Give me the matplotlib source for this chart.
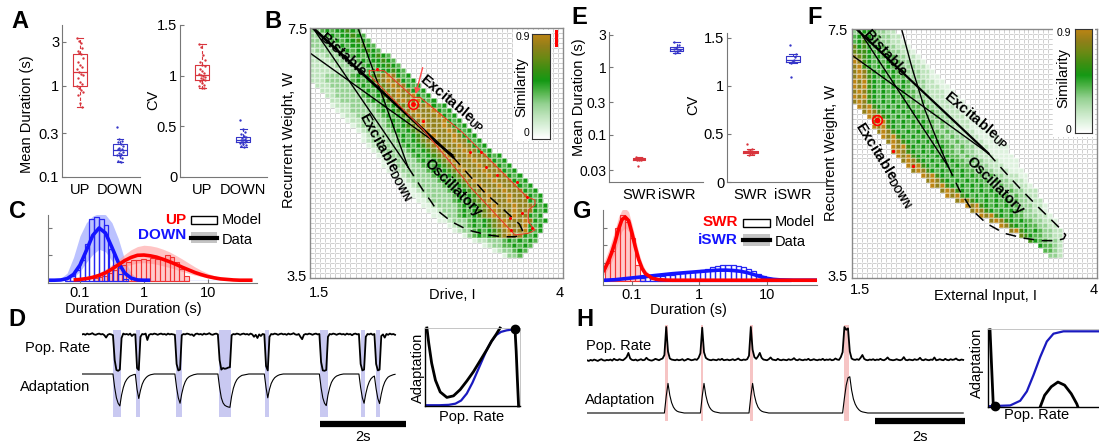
import numpy as np
import numpy.ma as ma
import matplotlib
matplotlib.use("Agg")
import matplotlib.pyplot as plt
from matplotlib.colors import LinearSegmentedColormap, ListedColormap
from matplotlib.patches import Rectangle
from matplotlib.lines import Line2D
from matplotlib.ticker import NullLocator

plt.rcParams['font.family'] = ['Liberation Sans', 'DejaVu Sans']
plt.rcParams['mathtext.fontset'] = 'custom'
plt.rcParams['mathtext.rm'] = 'Liberation Sans'
plt.rcParams['mathtext.bf'] = 'Liberation Sans:bold'

# ======================= DATA =======================
# Panel A : box plots
A_CATS = ['UP', 'DOWN']
A_UP_DUR = [3.3, 3.1, 2.9, 2.6, 2.4, 2.3, 2.2, 2.0, 1.8, 1.7, 1.6, 1.5, 1.4, 1.35, 1.3,
            1.2, 1.1, 1.05, 0.98, 0.95, 0.9, 0.85, 0.78, 0.65, 0.58]
A_DOWN_DUR = [0.35, 0.26, 0.25, 0.24, 0.23, 0.22, 0.21, 0.205, 0.2, 0.195, 0.19, 0.185,
              0.18, 0.175, 0.17, 0.16, 0.15, 0.145]
A_UP_CV = [1.31, 1.28, 1.2, 1.15, 1.13, 1.11, 1.1, 1.07, 1.05, 1.03, 1.02, 1.01, 1.0,
           0.99, 0.98, 0.97, 0.96, 0.95, 0.93, 0.91, 0.9, 0.88, 0.875]
A_DOWN_CV = [0.56, 0.47, 0.44, 0.42, 0.40, 0.39, 0.38, 0.375, 0.37, 0.365, 0.36, 0.35,
             0.345, 0.34, 0.33, 0.32, 0.31, 0.30]

# Panel E : box plots
E_CATS = ['SWR', 'iSWR']
E_SWR_DUR = [0.047, 0.046, 0.045, 0.045, 0.044, 0.044, 0.044, 0.043, 0.043, 0.042, 0.035]
E_ISWR_DUR = [2.35, 2.1, 2.0, 1.9, 1.85, 1.8, 1.75, 1.7, 1.6]
E_SWR_CV = [0.40, 0.34, 0.33, 0.32, 0.315, 0.31, 0.31, 0.30, 0.29, 0.285]
E_ISWR_CV = [1.42, 1.33, 1.3, 1.27, 1.26, 1.25, 1.24, 1.09]

# Panel C : duration histograms (x = log10 duration)
C_X_LOG = [-1.5, -1.4, -1.3, -1.2, -1.1, -1.0, -0.9, -0.8, -0.7, -0.6, -0.5, -0.4, -0.3, -0.2,
           -0.1, 0.0, 0.1, 0.2, 0.3, 0.4, 0.5, 0.6, 0.7, 0.8, 0.9, 1.0, 1.1, 1.2, 1.3, 1.4,
           1.5, 1.6, 1.7]
C_DOWN_CURVE = [.003, .003, .004, .009, .025, .060, .115, .172, .200, .181, .127, .070, .030,
                .011, .004] + [.003] * 18
C_DOWN_HI = [.003, .004, .01, .03, .09, .17, .22, .245, .255, .25, .22, .16, .08, .03, .01] + [.003] * 18
C_DOWN_LO = [.002, .002, .002, .005, .014, .036, .07, .10, .12, .11, .076, .04, .018, .006,
             .002] + [.002] * 18
C_UP_CURVE = [.003, .003, .003, .003, .004, .006, .009, .014, .021, .031, .045, .061, .077, .089,
              .097, .098, .095, .09, .082, .073, .063, .052, .042, .032, .024, .017, .012, .008,
              .006, .004, .003, .003, .003]
C_UP_HI = [.003, .003, .003, .004, .006, .01, .015, .022, .032, .045, .062, .082, .10, .118, .13,
           .135, .133, .128, .12, .11, .097, .083, .068, .053, .04, .029, .02, .013, .009, .006,
           .004, .003, .003]
C_UP_LO = [.002, .002, .002, .002, .003, .004, .006, .01, .015, .022, .032, .043, .054, .062,
           .068, .069, .067, .063, .057, .051, .044, .036, .029, .022, .017, .012, .008, .006,
           .004, .003, .002, .002, .002]
C_DOWN_BIN = [-1.19, -1.115, -1.04, -0.965, -0.89, -0.815, -0.74, -0.665, -0.59, -0.515, -0.44,
              -0.365, -0.29]
C_DOWN_MODEL = [0.01, 0.02, 0.04, 0.08, 0.14, 0.235, 0.24, 0.235, 0.21, 0.12, 0.06, 0.025, 0.008]
C_UP_BIN = [-0.76, -0.685, -0.61, -0.535, -0.46, -0.385, -0.31, -0.235, -0.16, -0.085, -0.01,
            0.065, 0.14, 0.215, 0.29, 0.365, 0.44, 0.515, 0.59, 0.665]
C_UP_MODEL = [0.01, 0.015, 0.02, 0.03, 0.04, 0.05, 0.06, 0.07, 0.078, 0.08, 0.083, 0.08, 0.085,
              0.082, 0.088, 0.1, 0.09, 0.07, 0.045, 0.02]

# Panel G : duration histograms
G_X_LOG = [-1.45, -1.40, -1.35, -1.30, -1.25, -1.20, -1.15, -1.10, -1.05, -1.00, -0.95, -0.90,
           -0.85, -0.80, -0.70, -0.60, -0.50, -0.40, -0.30, -0.20, -0.10, 0.00, 0.10, 0.20,
           0.30, 0.40, 0.50, 0.60, 0.70, 0.80, 0.90, 1.00, 1.10, 1.20, 1.40, 1.60, 1.75]
G_SWR_CURVE = [0.04, 0.07, 0.11, 0.16, 0.22, 0.29, 0.345, 0.36, 0.34, 0.27, 0.19, 0.12, 0.07,
               0.04, 0.014, 0.006, 0.004, 0.003, 0.003, 0.003, 0.003] + [0.003] * 16
G_SWR_HI = [0.07, 0.12, 0.17, 0.23, 0.29, 0.36, 0.40, 0.41, 0.39, 0.32, 0.24, 0.16, 0.10, 0.06,
            0.025, 0.01, 0.006, 0.004, 0.004, 0.004, 0.004] + [0.004] * 16
G_SWR_LO = [0.02, 0.04, 0.07, 0.11, 0.16, 0.22, 0.28, 0.30, 0.28, 0.22, 0.15, 0.09, 0.05, 0.025,
            0.008, 0.003] + [0.002] * 21
G_ISWR_CURVE = [0.003, 0.003, 0.004, 0.005, 0.006, 0.008, 0.010, 0.012, 0.014, 0.016, 0.018,
                0.020, 0.022, 0.024, 0.028, 0.032, 0.036, 0.040, 0.043, 0.046, 0.049, 0.052,
                0.055, 0.058, 0.060, 0.060, 0.058, 0.054, 0.047, 0.036, 0.024, 0.014, 0.008,
                0.005, 0.003, 0.003, 0.003]
G_SWR_BIN = [-1.37, -1.295, -1.22, -1.145, -1.07, -0.995, -0.92, -0.845]
G_SWR_MODEL = [0.10, 0.17, 0.30, 0.37, 0.33, 0.24, 0.09, 0.03]
G_ISWR_BIN = [-0.85, -0.775, -0.70, -0.625, -0.55, -0.475, -0.40, -0.325, -0.25, -0.175, -0.10,
              -0.025, 0.05, 0.125, 0.20, 0.275, 0.35, 0.425, 0.50, 0.575, 0.65, 0.725, 0.80,
              0.875, 0.95, 1.025, 1.10, 1.175, 1.25, 1.325]
G_ISWR_MODEL = [0.015, 0.02, 0.022, 0.025, 0.028, 0.032, 0.035, 0.04, 0.043, 0.047, 0.05, 0.055,
                0.06, 0.068, 0.075, 0.085, 0.09, 0.088, 0.09, 0.085, 0.078, 0.068, 0.055, 0.04,
                0.028, 0.018, 0.011, 0.006, 0.003, 0.002]

# Panels B / F : similarity maps (row 0 = W 7.5 at top; (start column, cell levels /10))
B_ROWS = [
    (0, "3345455654"), (0, "33345455654"), (0, "333345455654"), (0, "3333345455654"),
    (0, "23333345455654"), (0, "2223333345455654"), (0, "22223333345455654"),
    (0, "222223333345455654"), (0, "2222223333345455654"),
    (0, "22233333454567898545"), (0, "222333334545678988545"), (1, "222333334545678988545"),
    (2, "222333334545678988545"), (3, "223333345456789889545"), (4, "223333345456789889545"),
    (4, "12223333345456789889545"), (5, "12233333454567898889545"), (6, "12233333454567898889545"),
    (7, "12233333454567898889545"), (8, "12333334545678988898545"), (9, "12333334545678988898545"),
    (10, "12333334545678988898545"), (10, "123333345456789888988545"), (11, "123333345456789888988545"),
    (12, "123333345456789888988545"), (13, "1233333454567898889888545"), (14, "1233333454567898889888545"),
    (14, "11233333454567898889888545"), (15, "11233333454567898889888545"),
    (16, "11233333454567898889888545"), (17, "11233333454567898889888545"),
    (18, "11233333454567898889888545"), (19, "11233333454567898889888545"),
    (20, "11233333454567898889888545"), (21, "1123333454567898889888545"),
    (22, "1123333454567898889888545"), (23, "112333454567898889888545"),
    (24, "1123345456789888988545"), (25, "1123334545678988898545"),
    (27, "1233454567898889545"), (28, "123345456789889545"), (30, "134545678988545"),
    (32, "1223334545454"), (34, "1233445454"), (36, "1233454"), (38, "1334"),
]
F_ROWS = [
    (0, "345543322"), (0, "4565443322"), (0, "45654433221"), (0, "756545433221"),
    (0, "7665454433221"), (0, "87654545433221"), (0, "986545454433221"),
    (0, "8965454544333221"), (0, "89865454544333221"), (0, "898654545443332211"),
    (0, "9896545454543332211"), (0, "98965454545433322211"), (0, "898654545454433322211"),
    (0, "9896545454544333222111"), (0, "89865454545443433222111"), (1, "98965454545443433222111"),
    (2, "89865454545443433222111"), (3, "98965454545443433222111"), (4, "89965454545443433222111"),
    (4, "989654545454434332221111"), (5, "898654545454434332221111"), (6, "989654545454434332221111"),
    (7, "898654545454434332221111"), (8, "989654545454434332221111"), (8, "898654545454434332221111"),
    (9, "989654545454434332221111"), (10, "898654545454434332221111"), (11, "98965454545443433222111"),
    (12, "89865454545443433222111"), (14, "9896545454544343322211"), (15, "898654545454434332221"),
    (16, "989654545454434332221"), (18, "89865454545443433222"), (19, "9896545454544343322"),
    (21, "898654545454433222"), (23, "98965454544333221"), (24, "8986545454433221"),
    (26, "989654544333221"), (28, "89865454433221"), (30, "986545443322"),
    (32, "89654543322"), (34, "765443322"), (36, "6544332"), (38, "54432"), (39, "4432"), (40, "332"),
]
B_DOT_I = [2.159, 2.62, 3.081, 3.19, 3.239, 3.344, 3.542, 3.641, 3.59, 3.476, 3.69, 3.486]
B_DOT_W = [6.844, 6.017, 5.52, 5.52, 5.28, 5.148, 5.04, 4.79, 4.535, 4.455, 4.295, 4.268]
B_SEL = (2.515, 6.279)
B_CONT_I = [2.086, 2.231, 2.521, 2.587, 2.999, 3.048, 3.641, 3.723, 3.723, 3.657, 3.657, 3.723,
            3.657, 3.525, 3.081, 3.048, 2.62, 2.086]
B_CONT_W = [6.817, 6.817, 6.391, 6.391, 5.841, 5.761, 4.80, 4.748, 4.668, 4.588, 4.40, 4.268,
            4.215, 4.188, 4.96, 5.04, 5.87, 6.748]
B_L1 = ([1.530, 2.913], [7.5, 5.436])
B_L2 = ([1.5, 2.913], [7.1, 5.468])
B_LC = ([1.974, 2.468], [7.5, 5.276])
B_LD = ([1.530, 2.468], [7.5, 5.276])
B_HOPF_I = [2.913, 3.07, 3.23, 3.37, 3.49, 3.57, 3.60, 3.58, 3.525, 3.40, 3.25, 3.06, 2.90,
            2.752, 2.686, 2.636, 2.55, 2.468]
B_HOPF_W = [5.436, 5.15, 4.86, 4.66, 4.48, 4.36, 4.26, 4.19, 4.16, 4.16, 4.19, 4.268, 4.40,
            4.588, 4.748, 4.855, 5.07, 5.276]
F_DOT_I = [1.915, 2.119]
F_DOT_W = [5.54, 5.30]
F_SEL = (1.752, 6.038)
F_L1 = ([1.548, 2.891], [7.495, 5.503])
F_L2 = ([1.497, 2.891], [7.082, 5.503])
F_LC = ([2.007, 2.109, 2.245, 2.381, 2.483], [7.495, 6.894, 6.199, 5.664, 5.288])
F_LD = ([1.564, 2.483], [7.495, 5.288])
F_HOPF_I = [2.891, 3.05, 3.22, 3.40, 3.55, 3.64, 3.68, 3.66, 3.58, 3.436, 3.25, 3.05, 2.87,
            2.72, 2.60, 2.483]
F_HOPF_W = [5.503, 5.22, 4.93, 4.64, 4.41, 4.27, 4.19, 4.13, 4.10, 4.10, 4.14, 4.22, 4.38,
            4.60, 4.90, 5.288]

# Panel D : time series (dt = 0.04 s), levels 0-100
D_DT = 0.04
D_POP = [94, 95, 93, 96, 94, 95, 97, 94, 93, 95, 96, 94, 95, 92, 86, 93, 95, 94, 92, 30,
         5, 3, 6, 85, 96, 94, 95, 93, 96, 90, 94, 94, 10, 5, 88, 95, 94, 96, 80, 93,
         95, 94, 96, 95, 93, 95, 96, 94, 95, 93, 96, 94, 95, 94, 93, 20, 4, 6, 92, 95,
         94, 96, 95, 93, 94, 90, 95, 96, 94, 95, 93, 96, 94, 95, 97, 94, 93, 95, 96, 94,
         30, 6, 10, 8, 9, 11, 12, 92, 95, 94, 96, 95, 93, 95, 96, 94, 95, 93, 96, 94,
         88, 93, 85, 94, 90, 95, 94, 15, 4, 88, 95, 94, 96, 95, 93, 95, 96, 94, 95, 93,
         96, 94, 95, 97, 94, 93, 95, 88, 82, 93, 95, 94, 96, 95, 93, 95, 96, 94, 95, 25,
         4, 3, 5, 88, 95, 94, 96, 95, 93, 95, 96, 94, 95, 93, 96, 94, 95, 92, 95, 96,
         94, 95, 20, 4, 6, 88, 95, 94, 96, 93, 95, 20, 4, 6, 90, 94, 86, 95, 93, 96,
         94, 95, 93]
D_ADAPT = ([100] * 19 + [60, 30, 14, 6, 38, 60, 75, 84, 90, 94, 96, 98, 99, 55, 28,
           52, 70, 81, 88, 93, 96, 98, 99] + [100] * 13 + [60, 30, 14, 42, 63, 77, 86, 91,
           94, 96, 98, 99] + [100] * 13 + [60, 30, 15, 8, 5, 3, 2, 35, 58, 73, 83, 89, 93,
           96, 97, 98, 99] + [100] * 10 + [60, 30, 55, 72, 82, 89, 93, 96, 98, 99]
           + [100] * 22 + [60, 30, 14, 7, 38, 60, 75, 84, 90, 94, 96, 98, 99] + [100] * 10
           + [60, 30, 14, 42, 63, 77, 86, 91, 94, 56, 28, 13, 41, 62, 76, 85, 91, 94, 96, 98, 99])
D_DOWN_START = [0.713, 1.256, 2.186, 3.193, 4.256, 5.535, 6.481, 6.830]
D_DOWN_END = [0.907, 1.349, 2.319, 3.458, 4.342, 5.714, 6.581, 6.930]
D_NULL_X = [0.02, 0.04, 0.07, 0.11, 0.16, 0.23, 0.30, 0.37, 0.44, 0.51, 0.58, 0.65, 0.70, 0.75, 0.79]
D_NULL_Y = [1.00, 0.80, 0.55, 0.33, 0.18, 0.11, 0.13, 0.21, 0.32, 0.44, 0.58, 0.72, 0.83, 0.92, 1.0]
D_RIGHT_X = [0.947, 0.96, 0.972, 0.985]
D_RIGHT_Y = [0.99, 0.70, 0.35, 0.0]
D_SIG_X = [0.0, 0.15, 0.25, 0.32, 0.38, 0.44, 0.50, 0.55, 0.60, 0.65, 0.70, 0.75, 0.80, 0.86, 0.92, 1.0]
D_SIG_Y = [0.01, 0.01, 0.015, 0.03, 0.07, 0.16, 0.3, 0.44, 0.58, 0.72, 0.83, 0.91, 0.95, 0.97, 0.98, 0.98]
D_FP = (0.947, 0.99)

# Panel H : time series (dt = 0.04 s)
H_DT = 0.04
H_POP = [5, 3, 6, 4, 7, 5, 3, 6, 8, 5, 4, 6, 5, 7, 4, 9, 6, 5, 8, 6,
         5, 9, 14, 26, 10, 6, 5, 7, 4, 6, 8, 5, 6, 12, 7, 5, 4, 6, 9, 7,
         5, 8, 10, 20, 100, 30, 10, 7, 6, 5, 7, 5, 6, 8, 4, 6, 9, 7, 5, 6,
         8, 6, 12, 25, 98, 28, 12, 8, 6, 5, 7, 6, 5, 8, 6, 9, 5, 6, 7, 5,
         6, 8, 5, 7, 10, 6, 5, 7, 6, 8, 18, 100, 35, 14, 9, 16, 26, 12, 7, 6,
         5, 8, 13, 7, 6, 5, 9, 6, 5, 7, 6, 5, 8, 6, 7, 11, 6, 5, 8, 6,
         5, 7, 6, 9, 5, 6, 8, 6, 5, 7, 6, 9, 5, 7, 6, 8, 5, 6, 10, 7,
         6, 14, 28, 100, 92, 96, 30, 10, 7, 6, 8, 6, 12, 20, 9, 6, 5, 7, 6, 8,
         5, 7, 6, 9, 6, 5, 8, 13, 7, 6, 5, 6, 8, 6, 5, 7, 14, 6, 5, 7,
         6, 5, 8, 6, 7, 12, 6, 5, 8, 6, 5, 7, 6, 13, 5, 6, 8, 6, 5, 9,
         6, 5, 8, 6, 7, 10, 6, 5, 7, 6]
H_ADAPT = ([0] * 44 + [45, 80, 48, 28, 16, 9, 5, 3, 2, 1] + [0] * 10
           + [45, 80, 48, 28, 16, 9, 5, 3, 2, 1] + [0] * 17 + [45, 80, 48, 28, 16, 9, 5, 3, 2, 1]
           + [0] * 42 + [40, 75, 95, 98, 62, 38, 24, 15, 9, 5, 3, 2, 1] + [0] * 54)
H_EVENT_START = [1.73, 2.527, 3.622, 5.711]
H_EVENT_END = [1.80, 2.584, 3.682, 5.829]
H_NULL_X = [0.018, 0.048]
H_NULL_Y = [0.99, 0.01]
H_SIG_X = [0.0, 0.2, 0.29, 0.35, 0.41, 0.47, 0.53, 0.59, 0.68, 1.0]
H_SIG_Y = [0.01, 0.02, 0.08, 0.2, 0.41, 0.64, 0.84, 0.94, 0.97, 0.97]
H_HUMP_X = [0.47, 0.51, 0.57, 0.63, 0.69, 0.75, 0.80, 0.81]
H_HUMP_Y = [0.0, 0.15, 0.26, 0.32, 0.28, 0.17, 0.04, 0.0]
H_FP = (0.063, 0.01)

# ======================= FIGURE =======================
W, H = 1099, 442
fig = plt.figure(figsize=(W / 100, H / 100), dpi=100)
fig.patch.set_facecolor('white')


def pax(x0, y0, x1, y1):
    return fig.add_axes([x0 / W, 1 - y1 / H, (x1 - x0) / W, (y1 - y0) / H])


def ftext(x, y, s, **kw):
    kw.setdefault('ha', 'center')
    kw.setdefault('va', 'center')
    fig.text(x / W, 1 - y / H, s, **kw)


def frect(x0, y0, x1, y1, **kw):
    fig.add_artist(Rectangle((x0 / W, 1 - y1 / H), (x1 - x0) / W, (y1 - y0) / H,
                             transform=fig.transFigure, **kw))


def fline(x0, y0, x1, y1, **kw):
    fig.add_artist(Line2D([x0 / W, x1 / W], [1 - y0 / H, 1 - y1 / H], transform=fig.transFigure, **kw))


RED = '#d8353d'
BLUE = '#3535c8'
LRED = '#ff0000'
LBLUE = '#1414ff'
GRAY = '#777777'

# ---------------- box plots ----------------
def boxes(ax, groups, colors):
    for k, (vals, col) in enumerate(zip(groups, colors)):
        pos = k + 1
        ax.boxplot([vals], positions=[pos], widths=0.34, whis=1.5, showfliers=False,
                   boxprops=dict(color=col, lw=0.8),
                   whiskerprops=dict(color=col, lw=0.8, ls=(0, (3, 2))),
                   capprops=dict(color=col, lw=0.8),
                   medianprops=dict(color=col, lw=0.9), manage_ticks=False)
        n = len(vals)
        order = (np.arange(n) * 7) % n
        jit = (order / max(n - 1, 1) - 0.5) * 0.16
        ax.plot(pos + jit, vals, 'o', ms=1.7, color=col, mec='none')


def box_style(ax, cats, ysize=10.5):
    for s in ['top', 'right']:
        ax.spines[s].set_visible(False)
    for s in ['left', 'bottom']:
        ax.spines[s].set_color(GRAY)
        ax.spines[s].set_linewidth(0.8)
    ax.set_xticks([1, 2])
    ax.set_xticklabels(cats)
    ax.tick_params(axis='y', direction='in', length=3, color=GRAY, labelsize=ysize, pad=2)
    ax.tick_params(axis='x', length=0, labelsize=10.5, pad=4)
    ax.yaxis.set_minor_locator(NullLocator())
    ax.patch.set_alpha(0)


axA1 = pax(62, 25, 140, 177)
boxes(axA1, [A_UP_DUR, A_DOWN_DUR], [RED, BLUE])
axA1.set_yscale('log')
axA1.set_ylim(0.1, 4.6)
axA1.set_xlim(0.55, 2.5)
box_style(axA1, A_CATS)
axA1.set_yticks([0.1, 0.3, 1, 3])
axA1.set_yticklabels(['0.1', '0.3', '1', '3'])
axA1.yaxis.set_minor_locator(NullLocator())
ftext(27, 114, 'Mean Duration (s)', rotation=90, fontsize=10.5)

axA2 = pax(180, 25, 267, 177)
boxes(axA2, [A_UP_CV, A_DOWN_CV], [RED, BLUE])
axA2.set_ylim(0, 1.5)
axA2.set_xlim(0.46, 2.58)
box_style(axA2, A_CATS)
axA2.set_yticks([0, 0.5, 1, 1.5])
axA2.set_yticklabels(['0', '0.5', '1', '1.5'])
ftext(153, 100, 'CV', rotation=90, fontsize=10.5)

axE1 = pax(609, 32, 703, 182)
boxes(axE1, [E_SWR_DUR, E_ISWR_DUR], [RED, BLUE])
axE1.set_yscale('log')
axE1.set_ylim(0.02, 3.3)
axE1.set_xlim(0.2, 2.7)
box_style(axE1, E_CATS, ysize=10)
axE1.set_yticks([0.03, 0.1, 0.3, 1, 3])
axE1.set_yticklabels(['0.03', '0.1', '0.3', '1', '3'])
axE1.yaxis.set_minor_locator(NullLocator())
ftext(579, 97, 'Mean Duration (s)', rotation=90, fontsize=10.5)

axE2 = pax(727, 33, 827, 182)
boxes(axE2, [E_SWR_CV, E_ISWR_CV], [RED, BLUE])
axE2.set_ylim(0, 1.55)
axE2.set_xlim(0.45, 2.8)
box_style(axE2, E_CATS)
axE2.set_yticks([0, 0.5, 1, 1.5])
axE2.set_yticklabels(['0', '0.5', '1', '1.5'])
ftext(693, 105, 'CV', rotation=90, fontsize=10.5)

# ---------------- histograms ----------------
def hist_style(ax, ticks):
    for s in ['top', 'right']:
        ax.spines[s].set_visible(False)
    for s in ['left', 'bottom']:
        ax.spines[s].set_color(GRAY)
        ax.spines[s].set_linewidth(0.8)
    ax.set_xticks([-1, 0, 1])
    ax.set_xticklabels(['0.1', '1', '10'])
    ax.set_yticks(ticks)
    ax.set_yticklabels([])
    ax.tick_params(axis='both', direction='in', length=3, color=GRAY, labelsize=10.5, pad=2)
    ax.patch.set_alpha(0)


axC = pax(48, 215, 257, 283)
axC.fill_between(C_X_LOG, C_DOWN_LO, C_DOWN_HI, color=(0.62, 0.66, 1.0), alpha=0.7, lw=0)
axC.fill_between(C_X_LOG, C_UP_LO, C_UP_HI, color=(1.0, 0.62, 0.62), alpha=0.6, lw=0)
axC.bar(C_UP_BIN, C_UP_MODEL, width=0.075, facecolor=(1, 0.55, 0.55, 0.45),
        edgecolor=(0.95, 0.2, 0.2), lw=0.8)
axC.bar(C_DOWN_BIN, C_DOWN_MODEL, width=0.073, fill=False, edgecolor=(0.15, 0.15, 0.95), lw=0.9)
axC.plot(C_X_LOG[:17], C_DOWN_CURVE[:17], color=LBLUE, lw=2.6, solid_capstyle='butt')
axC.plot(C_X_LOG[4:], C_UP_CURVE[4:], color=LRED, lw=2.6, solid_capstyle='butt')
axC.set_xlim(-1.5, 1.77)
axC.set_ylim(-0.0075, 0.249)
hist_style(axC, [0, 0.1, 0.2])
ftext(133, 309, 'Duration Duration (s)', fontsize=10.5)
ftext(186, 220, 'UP', ha='right', color=LRED, fontsize=11, fontweight='bold')
ftext(186, 235, 'DOWN', ha='right', color=LBLUE, fontsize=11, fontweight='bold')
frect(191, 216, 217, 224, facecolor='white', edgecolor='k', lw=1)
frect(191, 232, 217, 243, facecolor='#c4c4c4', edgecolor='none')
fline(191, 238, 217, 238, color='k', lw=3)
ftext(222, 220, 'Model', ha='left', fontsize=10.5)
ftext(222, 240, 'Data', ha='left', fontsize=10.5)

axG = pax(603, 210, 817, 285)
axG.fill_between(G_X_LOG, G_SWR_LO, G_SWR_HI, color=(1.0, 0.62, 0.62), alpha=0.6, lw=0)
axG.bar(G_SWR_BIN, G_SWR_MODEL, width=0.075, facecolor=(1, 0.55, 0.55, 0.45),
        edgecolor=(0.95, 0.2, 0.2), lw=0.8)
axG.bar(G_ISWR_BIN, G_ISWR_MODEL, width=0.075, fill=False, edgecolor=(0.15, 0.15, 0.95), lw=0.9)
axG.plot(G_X_LOG, G_ISWR_CURVE, color=LBLUE, lw=2.6, solid_capstyle='butt')
axG.plot(G_X_LOG, G_SWR_CURVE, color=LRED, lw=2.6, solid_capstyle='butt')
axG.set_xlim(-1.43, 1.746)
axG.set_ylim(-0.024, 0.40)
hist_style(axG, [0, 0.1, 0.2, 0.3])
ftext(688, 310, 'Duration (s)', fontsize=10.5)
ftext(738, 222, 'SWR', ha='right', color=LRED, fontsize=11, fontweight='bold')
ftext(738, 240, 'iSWR', ha='right', color=LBLUE, fontsize=11, fontweight='bold')
frect(743, 219, 770, 227, facecolor='white', edgecolor='k', lw=1)
frect(743, 234, 770, 246, facecolor='#c4c4c4', edgecolor='none')
fline(743, 240, 770, 240, color='k', lw=3)
ftext(775, 222, 'Model', ha='left', fontsize=10.5)
ftext(775, 242, 'Data', ha='left', fontsize=10.5)

# ---------------- similarity maps ----------------
SIM_CMAP = LinearSegmentedColormap.from_list('sim', [
    (0.0, (1.0, 1.0, 1.0)),
    (0.1 / 0.9, (0.87, 0.95, 0.87)),
    (0.2 / 0.9, (0.74, 0.89, 0.73)),
    (0.3 / 0.9, (0.58, 0.82, 0.57)),
    (0.4 / 0.9, (0.33, 0.71, 0.30)),
    (0.5 / 0.9, (0.08, 0.60, 0.08)),
    (0.6 / 0.9, (0.24, 0.56, 0.07)),
    (0.7 / 0.9, (0.42, 0.54, 0.08)),
    (0.8 / 0.9, (0.57, 0.50, 0.10)),
    (1.0, (0.74, 0.52, 0.08))])


def heat(ax, rows, n=50):
    Z = np.zeros((n, n))
    for r, (c0, s) in enumerate(rows):
        for j, ch in enumerate(s):
            if 0 <= c0 + j < n:
                Z[n - 1 - r, c0 + j] = int(ch) / 10.0
    xe = np.linspace(1.5, 4.0, n + 1)
    ye = np.linspace(3.5, 7.5, n + 1)
    ax.pcolormesh(xe, ye, np.zeros_like(Z), cmap=ListedColormap(['white']),
                  edgecolors='#a0a0a0', linewidth=0.5)
    ax.pcolormesh(xe, ye, ma.masked_equal(Z, 0), cmap=SIM_CMAP, vmin=0, vmax=0.9,
                  edgecolors=(1, 1, 1, 0.3), linewidth=0.3)
    ax.set_xlim(1.5, 4.0)
    ax.set_ylim(3.5, 7.5)
    ax.set_xticks([])
    ax.set_yticks([])
    for s in ax.spines.values():
        s.set_color('#8a8a8a')
        s.set_linewidth(1.0)


def cbar(x0, y0, x1, y1, bx0, by0, bx1, by1, lab_x, t9, t0):
    frect(bx0, by0, bx1, by1, facecolor='white', edgecolor='none', zorder=5)
    cax = pax(x0, y0, x1, y1)
    cax.set_zorder(6)
    cax.imshow(np.linspace(0, 0.9, 200)[:, None], cmap=SIM_CMAP, vmin=0, vmax=0.9,
               origin='lower', aspect='auto', extent=[0, 1, 0, 1])
    cax.set_xticks([])
    cax.set_yticks([])
    for s in cax.spines.values():
        s.set_color('#333333')
        s.set_linewidth(0.8)
    ftext(t9[0], t9[1], '0.9', ha='right', fontsize=7.5, zorder=7)
    ftext(t0[0], t0[1], '0', ha='right', fontsize=7.5, zorder=7)
    ftext(lab_x[0], lab_x[1], 'Similarity', rotation=90, fontsize=10.5, zorder=7)


# Panel B
axB = pax(310, 28, 563, 278)
heat(axB, B_ROWS)
axB.plot(*B_L1, color='k', lw=2.0)
axB.plot(*B_L2, color='k', lw=1.0)
axB.plot(*B_LC, color='k', lw=1.0)
axB.plot(*B_LD, color='k', lw=1.0)
axB.plot(B_HOPF_I, B_HOPF_W, color='k', lw=1.1, ls=(0, (7, 5)))
axB.plot(B_CONT_I + B_CONT_I[:1], B_CONT_W + B_CONT_W[:1], color=(0.9, 0.25, 0.15), lw=0.8)
axB.plot(B_DOT_I, B_DOT_W, 'o', ms=2.2, color='red', mec='none')
axB.plot([B_SEL[0]], [B_SEL[1]], 'o', ms=7, mfc='none', mec='red', mew=1.1)
axB.plot([B_SEL[0]], [B_SEL[1]], 'o', ms=2.5, color='red')
axB.annotate('', xy=(2.537, 6.40), xytext=(2.62, 6.908),
             arrowprops=dict(arrowstyle='-|>', color=(1, 0.3, 0.3), lw=1.0, mutation_scale=8))
cbar(532, 34, 550, 139, 513, 30, 552, 141, (521, 87), (530, 37), (529, 133))
for yy in (31, 35, 39, 43):
    fline(556, yy, 556, yy + 2, color='red', lw=2.2)
ftext(343, 55, 'Bistable', rotation=-42, fontsize=10.5, fontweight='bold')
ftext(452, 103, r'Excitable$_{\mathbf{UP}}$', rotation=-40, fontsize=10.5, fontweight='bold')
ftext(387, 157, r'Excitable$_{\mathbf{DOWN}}$', rotation=-61, fontsize=10.5, fontweight='bold')
ftext(453, 188, 'Oscillatory', rotation=-45, fontsize=10.5, fontweight='bold')
ftext(307, 30, '7.5', ha='right', fontsize=10.5)
ftext(307, 277, '3.5', ha='right', fontsize=10.5)
ftext(319, 293, '1.5', fontsize=10.5)
ftext(560, 293, '4', fontsize=10.5)
ftext(289, 140, 'Recurrent Weight, W', rotation=90, fontsize=10.5)
ftext(452, 295, 'Drive, I', fontsize=10.5)

# Panel F
axF = pax(852, 29, 1097, 278)
heat(axF, F_ROWS)
axF.plot(*F_L1, color='k', lw=1.6)
axF.plot(*F_L2, color='k', lw=1.0)
axF.plot(*F_LC, color='k', lw=1.0)
axF.plot(*F_LD, color='k', lw=1.0)
axF.plot(F_HOPF_I, F_HOPF_W, color='k', lw=1.1, ls=(0, (7, 5)))
axF.plot(F_DOT_I, F_DOT_W, 'o', ms=2.4, color='red', mec='none')
axF.plot([F_SEL[0]], [F_SEL[1]], 'o', ms=7, mfc='none', mec='red', mew=1.2)
axF.plot([F_SEL[0]], [F_SEL[1]], 'o', ms=3, color='red')
cbar(1075, 29, 1092, 133, 1053, 26, 1095, 137, (1063, 78), (1071, 33), (1071, 130))
ftext(885, 53, 'Bistable', rotation=-48, fontsize=10.5, fontweight='bold')
ftext(976, 120, r'Excitable$_{\mathbf{UP}}$', rotation=-40, fontsize=10.5, fontweight='bold')
ftext(884, 165, r'Excitable$_{\mathbf{DOWN}}$', rotation=-58, fontsize=10.5, fontweight='bold')
ftext(995, 186, 'Oscillatory', rotation=-45, fontsize=10.5, fontweight='bold')
ftext(848, 31, '7.5', ha='right', fontsize=10.5)
ftext(848, 277, '3.5', ha='right', fontsize=10.5)
ftext(860, 290, '1.5', fontsize=10.5)
ftext(1094, 290, '4', fontsize=10.5)
ftext(831, 153, 'Recurrent Weight, W', rotation=90, fontsize=10.5)
ftext(986, 296, 'External Input, I', fontsize=10.5)

# ---------------- time series D ----------------
axD = pax(82, 325, 406, 442)
tD = np.arange(len(D_POP)) * D_DT
for t0, t1 in zip(D_DOWN_START, D_DOWN_END):
    axD.add_patch(Rectangle((t0, 25), t1 - t0, 87, facecolor='#c9c9f1', edgecolor='none'))
axD.plot(tD, 70 + 0.40 * np.array(D_POP), color='k', lw=1.3)
axD.plot(tD, 34 + 0.34 * np.array(D_ADAPT), color='k', lw=0.8)
axD.plot([5.535, 7.535], [18, 18], color='k', lw=4.5, solid_capstyle='butt')
axD.set_xlim(0, 324 / 43)
axD.set_ylim(0, 117)
axD.axis('off')
ftext(363, 437, '2s', fontsize=10.5)
ftext(90, 348, 'Pop. Rate', ha='right', fontsize=10.5)
ftext(90, 387, 'Adaptation', ha='right', fontsize=10.5)

axDp = pax(425, 328, 520, 406)
axDp.plot(D_SIG_X, D_SIG_Y, color=(0.1, 0.1, 0.75), lw=1.6)
axDp.plot(D_NULL_X, D_NULL_Y, color='k', lw=2.0, clip_on=False)
axDp.plot(D_RIGHT_X, D_RIGHT_Y, color='k', lw=2.0, clip_on=False)
axDp.plot([D_FP[0]], [D_FP[1]], 'o', ms=6, color='k', clip_on=False, zorder=5)
axDp.set_xlim(0, 1)
axDp.set_ylim(0, 1)
axDp.set_xticks([])
axDp.set_yticks([])
for s in ['left', 'bottom']:
    axDp.spines[s].set_color('k')
    axDp.spines[s].set_linewidth(1.0)
for s in ['top', 'right']:
    axDp.spines[s].set_color('#bbbbbb')
    axDp.spines[s].set_linewidth(0.6)
ftext(418, 368, 'Adaptation', rotation=90, fontsize=10.5)
ftext(472, 417, 'Pop. Rate', fontsize=10.5)

# ---------------- time series H ----------------
axH = pax(587, 320, 970, 442)
tH = np.arange(len(H_POP)) * H_DT
for t0, t1 in zip(H_EVENT_START, H_EVENT_END):
    axH.add_patch(Rectangle((t0, 21), t1 - t0, 96, facecolor='#f6c4c4', edgecolor='none'))
axH.plot(tH, 80 + 0.35 * np.array(H_POP), color='k', lw=1.3)
axH.plot(tH, 29 + 0.37 * np.array(H_ADAPT), color='k', lw=0.8)
axH.plot([6.4, 8.4], [21, 21], color='k', lw=4.5, solid_capstyle='butt')
axH.set_xlim(0, 383 / 45)
axH.set_ylim(0, 122)
axH.axis('off')
ftext(920, 437, '2s', fontsize=10.5)
ftext(586, 346, 'Pop. Rate', ha='left', fontsize=10.5)
ftext(585, 400, 'Adaptation', ha='left', fontsize=10.5)

axHp = pax(988, 329, 1099, 407)
axHp.plot(H_SIG_X, H_SIG_Y, color=(0.1, 0.1, 0.75), lw=1.6)
axHp.plot(H_NULL_X, H_NULL_Y, color='k', lw=2.0, clip_on=False)
axHp.plot(H_HUMP_X, H_HUMP_Y, color='k', lw=2.0)
axHp.plot([H_FP[0]], [H_FP[1]], 'o', ms=6, color='k', clip_on=False, zorder=5)
axHp.set_xlim(0, 1)
axHp.set_ylim(0, 1)
axHp.set_xticks([])
axHp.set_yticks([])
for s in ['left', 'bottom']:
    axHp.spines[s].set_color('k')
    axHp.spines[s].set_linewidth(1.0)
axHp.spines['top'].set_color('#bbbbbb')
axHp.spines['top'].set_linewidth(0.6)
axHp.spines['right'].set_visible(False)
ftext(977, 363, 'Adaptation', rotation=90, fontsize=10.5)
ftext(1037, 415, 'Pop. Rate', fontsize=10.5)

# ---------------- panel letters ----------------
for lab, x, y in [('A', 20, 22), ('B', 273, 22), ('C', 18, 211), ('D', 17, 319),
                  ('E', 579, 18), ('F', 815, 18), ('G', 582, 211), ('H', 585, 319)]:
    ftext(x, y, lab, fontsize=17, fontweight='bold')

fig.savefig('out.png', dpi=100)
